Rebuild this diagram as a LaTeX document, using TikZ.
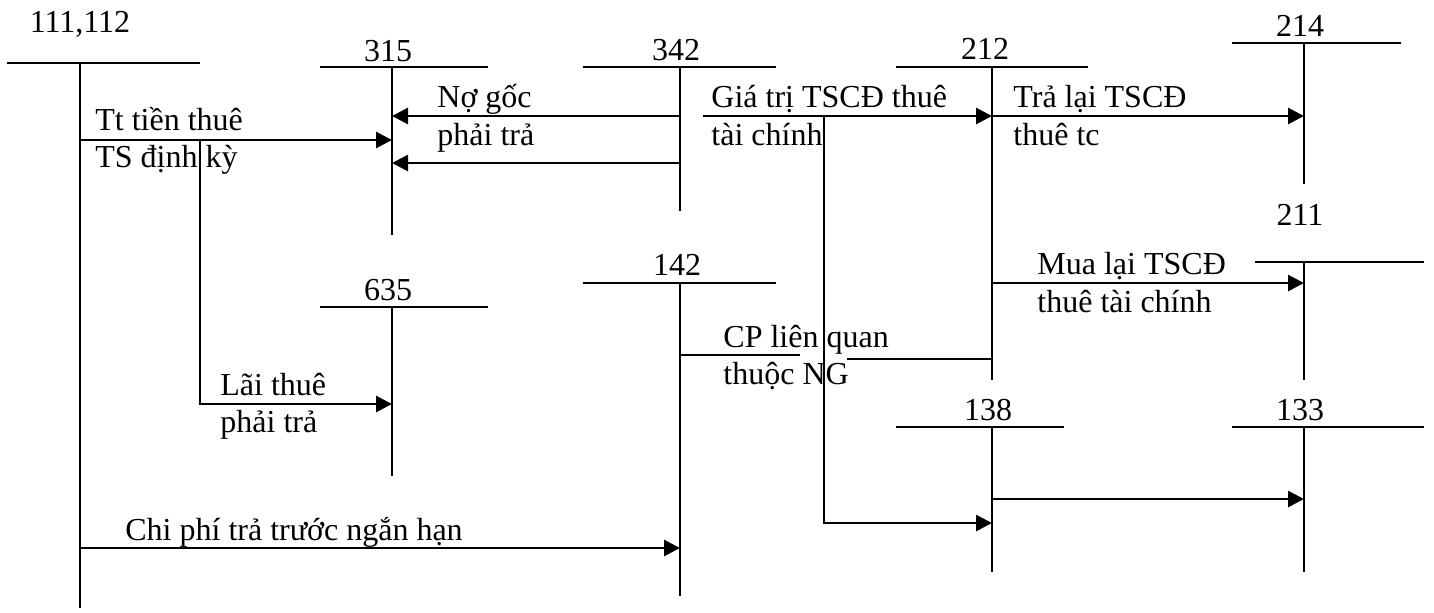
\documentclass[tikz,border=0pt]{standalone}
\usepackage{fontspec}
\setmainfont{Liberation Serif}
\usetikzlibrary{arrows.meta}
\begin{document}
\begin{tikzpicture}[x=0.5pt,y=-0.5pt,
  tbar/.style={line width=1pt},
  tarr/.style={line width=1.4pt,-{Triangle[length=8pt,width=8pt]}},
  tlbl/.style={anchor=base west,inner sep=0pt,font=\fontsize{16}{18}\selectfont},
  tnum/.style={anchor=base,inner sep=0pt,font=\fontsize{16}{18}\selectfont}]
\useasboundingbox (0,0) rectangle (1434,612);

% T-accounts: title, horizontal bar, vertical stem
\node[tnum] (tA) at (80,32) {111,112};
\draw[tbar] (7,63) coordinate (tA-l) -- (200,63) coordinate (tA-r);
\draw[tbar] (80,63) coordinate (tA-t) -- (80,608) coordinate (tA-b);

\node[tnum] (tB) at (388,61) {315};
\draw[tbar] (320,67) coordinate (tB-l) -- (488,67) coordinate (tB-r);
\draw[tbar] (392,67) coordinate (tB-t) -- (392,235) coordinate (tB-b);

\node[tnum] (tC) at (676,60) {342};
\draw[tbar] (583,67) coordinate (tC-l) -- (776,67) coordinate (tC-r);
\draw[tbar] (680,67) coordinate (tC-t) -- (680,211) coordinate (tC-b);

\node[tnum] (tD) at (985,59) {212};
\draw[tbar] (896,67) coordinate (tD-l) -- (1088,67) coordinate (tD-r);
\draw[tbar] (992,67) coordinate (tD-t) -- (992,380) coordinate (tD-b);

\node[tnum] (tE) at (1300,36) {214};
\draw[tbar] (1232,43) coordinate (tE-l) -- (1401,43) coordinate (tE-r);
\draw[tbar] (1304,43) coordinate (tE-t) -- (1304,184) coordinate (tE-b);

\node[tnum] (tF) at (1300,225) {211};
\draw[tbar] (1255,262) coordinate (tF-l) -- (1424,262) coordinate (tF-r);
\draw[tbar] (1304,262) coordinate (tF-t) -- (1304,380) coordinate (tF-b);

\node[tnum] (tG) at (677,275) {142};
\draw[tbar] (583,283) coordinate (tG-l) -- (776,283) coordinate (tG-r);
\draw[tbar] (680,283) coordinate (tG-t) -- (680,596) coordinate (tG-b);

\node[tnum] (tH) at (388,300) {635};
\draw[tbar] (320,307) coordinate (tH-l) -- (488,307) coordinate (tH-r);
\draw[tbar] (392,307) coordinate (tH-t) -- (392,476) coordinate (tH-b);

\node[tnum] (tI) at (988,420) {138};
\draw[tbar] (896,427) coordinate (tI-l) -- (1064,427) coordinate (tI-r);
\draw[tbar] (992,427) coordinate (tI-t) -- (992,572) coordinate (tI-b);

\node[tnum] (tJ) at (1300,420) {133};
\draw[tbar] (1232,427) coordinate (tJ-l) -- (1424,427) coordinate (tJ-r);
\draw[tbar] (1304,427) coordinate (tJ-t) -- (1304,572) coordinate (tJ-b);

% connector end points
\coordinate (c1a) at (80,140);  \coordinate (c1b) at (392,140);
\coordinate (c2a) at (200,140); \coordinate (c2m) at (200,404); \coordinate (c2b) at (392,404);
\coordinate (c3a) at (680,116); \coordinate (c3b) at (392,116);
\coordinate (c4a) at (680,163); \coordinate (c4b) at (392,163);
\coordinate (c5a) at (703,116); \coordinate (c5b) at (992,116);
\coordinate (c6a) at (824,116); \coordinate (c6m) at (824,523); \coordinate (c6b) at (992,523);
\coordinate (c7a) at (992,116); \coordinate (c7b) at (1304,116);
\coordinate (c8a) at (992,283); \coordinate (c8b) at (1304,283);
\coordinate (c9a) at (680,355); \coordinate (c9b) at (800,355);
\coordinate (c9c) at (847,359); \coordinate (c9d) at (992,359);
\coordinate (c10a) at (992,499); \coordinate (c10b) at (1304,499);
\coordinate (c11a) at (80,548); \coordinate (c11b) at (680,548);

\draw[tarr] (c1a) -- (c1b);
\draw[tarr] (c2a) -- (c2m) -- (c2b);
\draw[tarr] (c3a) -- (c3b);
\draw[tarr] (c4a) -- (c4b);
\draw[tarr] (c5a) -- (c5b);
\draw[tarr] (c6a) -- (c6m) -- (c6b);
\draw[tarr] (c7a) -- (c7b);
\draw[tarr] (c8a) -- (c8b);
\draw[tbar] (c9a) -- (c9b);
\draw[tbar] (c9c) -- (c9d);
\draw[tarr] (c10a) -- (c10b);
\draw[tarr] (c11a) -- (c11b);

% labels
\node[tlbl] (l1a) at (95,130) {Tt tiền thuê};
\node[tlbl] (l1b) at (95,167) {TS định kỳ};
\node[tlbl] (l2a) at (220,395) {Lãi thuê};
\node[tlbl] (l2b) at (220,432) {phải trả};
\node[tlbl] (l3a) at (437,107) {Nợ gốc};
\node[tlbl] (l3b) at (437,145) {phải trả};
\node[tlbl] (l5a) at (711,107) {Giá trị TSCĐ thuê};
\node[tlbl] (l5b) at (711,145) {tài chính};
\node[tlbl] (l7a) at (1013,107) {Trả lại TSCĐ};
\node[tlbl] (l7b) at (1013,145) {thuê tc};
\node[tlbl] (l8a) at (1037,274) {Mua lại TSCĐ};
\node[tlbl] (l8b) at (1037,312) {thuê tài chính};
\node[tlbl] (l9a) at (723,347) {CP liên quan};
\node[tlbl] (l9b) at (723,384) {thuộc NG};
\node[tlbl] (l11) at (125,540) {Chi phí trả trước ngắn hạn};
\end{tikzpicture}
\end{document}
